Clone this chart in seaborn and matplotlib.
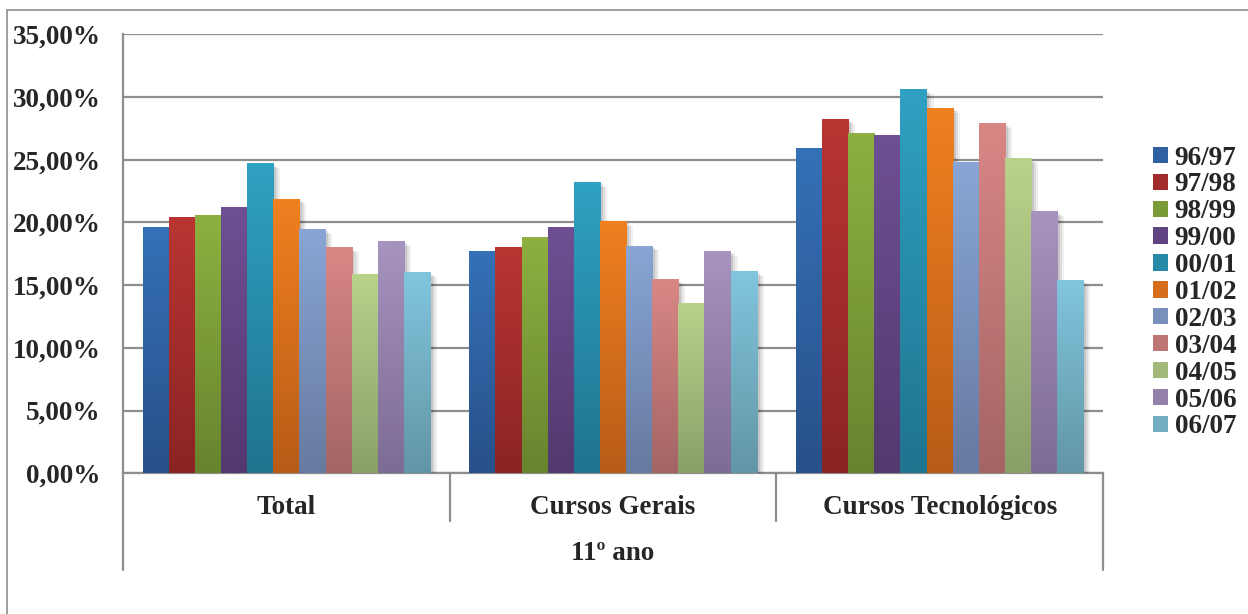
import numpy as np
import pandas as pd
import matplotlib
matplotlib.use("Agg")
import matplotlib.pyplot as plt
import matplotlib.patheffects as pe
from matplotlib.lines import Line2D
from matplotlib.patches import Patch
from matplotlib.font_manager import FontProperties
from matplotlib.ticker import FuncFormatter, MultipleLocator
import matplotlib.transforms as mtransforms
import seaborn as sns

# ---- data -------------------------------------------------------------
categories = ["Total", "Cursos Gerais", "Cursos Tecnológicos"]
periods = ["96/97", "97/98", "98/99", "99/00", "00/01", "01/02",
           "02/03", "03/04", "04/05", "05/06", "06/07"]

total = [19.55, 20.35, 20.50, 21.15, 24.65, 21.85, 19.40, 17.95, 15.80, 18.45, 15.95]
gerais = [17.65, 17.95, 18.75, 19.55, 23.15, 20.05, 18.10, 15.40, 13.50, 17.70, 16.05]
tecnologicos = [25.85, 28.20, 27.10, 26.90, 30.55, 29.10, 24.75, 27.85, 25.05, 20.85, 15.35]

group_label = "11º ano"

# gradient colours per period: (top, bottom)
top_colors = ["#3571B6", "#B93532", "#8DB040", "#6F4F94", "#2FA1C1", "#F08020",
              "#88A5D5", "#D98785", "#B9D28A", "#A693BF", "#81C5DD"]
bottom_colors = ["#28508A", "#8A2424", "#68842F", "#52396E", "#1F7490", "#B85C18",
                 "#677A9F", "#A36564", "#8B9F69", "#7D6C93", "#6296A6"]

# ---- style ------------------------------------------------------------
sns.set_style("white")
plt.rcParams["font.family"] = ["Liberation Serif", "DejaVu Serif"]
plt.rcParams["font.weight"] = "bold"
FS = 19.5
FP = FontProperties(family=["Liberation Serif", "DejaVu Serif"], weight="bold", size=FS)
GRID = "#8E8E8E"

df = pd.DataFrame({
    "categoria": np.repeat(categories, len(periods)),
    "periodo": periods * len(categories),
    "valor": total + gerais + tecnologicos,
})

W, H = 1248, 614
fig = plt.figure(figsize=(W / 100, H / 100), dpi=100)
ax = fig.add_axes([123 / W, 1 - 473.3 / H, (1103 - 123) / W, (473.3 - 34.4) / H])

def rgb(c):
    return np.array(matplotlib.colors.to_rgb(c))

mid_colors = [tuple((rgb(t) + rgb(b)) / 2) for t, b in zip(top_colors, bottom_colors)]

sns.barplot(data=df, x="categoria", y="valor", hue="periodo",
            hue_order=periods, order=categories, palette=mid_colors,
            saturation=1, width=0.88, linewidth=0, legend=False, ax=ax, zorder=3)

# vertical gradient fill and soft drop shadow for each bar
shadow = [pe.SimplePatchShadow(offset=(5, -3), shadow_rgbFace="#000000", alpha=0.06),
          pe.SimplePatchShadow(offset=(3.5, -2), shadow_rgbFace="#000000", alpha=0.08),
          pe.SimplePatchShadow(offset=(2, -1), shadow_rgbFace="#000000", alpha=0.10),
          pe.Normal()]
n = 64
for i, cont in enumerate(ax.containers):
    ct, cb = rgb(top_colors[i]), rgb(bottom_colors[i])
    s = np.linspace(0, 1, n)[:, None]
    grad = (ct[None, :] * (1 - s) + cb[None, :] * s)[:, None, :]
    for bar in cont:
        bar.set_path_effects(shadow)
        x0, w, h = bar.get_x(), bar.get_width(), bar.get_height()
        ax.imshow(grad, extent=[x0, x0 + w, 0, h], aspect="auto",
                  interpolation="bilinear", zorder=4, origin="upper")

ax.set_xlim(-0.5, len(categories) - 0.5)
ax.set_ylim(0, 35)
ax.set_aspect("auto")

# axes, grid and ticks
ax.yaxis.set_major_locator(MultipleLocator(5))
ax.yaxis.set_major_formatter(FuncFormatter(lambda v, p: f"{v:.2f}".replace(".", ",") + "%"))
ax.grid(axis="y", color=GRID, linewidth=1.6, zorder=0)
ax.grid(axis="x", visible=False)
ax.set_axisbelow(True)
for side in ["top", "right"]:
    ax.spines[side].set_visible(False)
for side in ["left", "bottom"]:
    ax.spines[side].set_color(GRID)
    ax.spines[side].set_linewidth(1.6)
ax.tick_params(axis="y", length=5, width=1.6, color=GRID, pad=11)
ax.tick_params(axis="x", length=0, pad=15.5)
ax.set_xlabel("")
ax.set_ylabel("")
fig.canvas.draw()
for lab in ax.get_xticklabels() + ax.get_yticklabels():
    lab.set_fontproperties(FP)

# two-level category axis separators
tr = mtransforms.blended_transform_factory(ax.transData, fig.transFigure)
def fy(px):
    return 1 - px / H
for xv in [0.5, 1.5]:
    fig.add_artist(Line2D([xv, xv], [fy(473.3), fy(521)], transform=tr,
                          color=GRID, linewidth=1.6))
for xv in [-0.5, len(categories) - 0.5]:
    fig.add_artist(Line2D([xv, xv], [fy(473.3), fy(570)], transform=tr,
                          color=GRID, linewidth=1.6))
fig.text(613 / W, fy(554), group_label, ha="center", va="center", fontproperties=FP)

# chart frame
fig.add_artist(Line2D([7 / W, 1], [fy(10), fy(10)], transform=fig.transFigure,
                      color=GRID, linewidth=1.2))
fig.add_artist(Line2D([7 / W, 7 / W], [fy(10), 0], transform=fig.transFigure,
                      color=GRID, linewidth=1.2))

# legend
handles = [Patch(facecolor=matplotlib.colors.to_hex(c), edgecolor="none") for c in mid_colors]
leg = fig.legend(handles, periods, loc="center left",
                 bbox_to_anchor=(1153 / W, fy(292.5)), frameon=False, prop=FP,
                 handlelength=0.55, handleheight=0.55, handletextpad=0.25,
                 labelspacing=0.07, borderaxespad=0, borderpad=0)

fig.savefig("out.png", dpi=100)
